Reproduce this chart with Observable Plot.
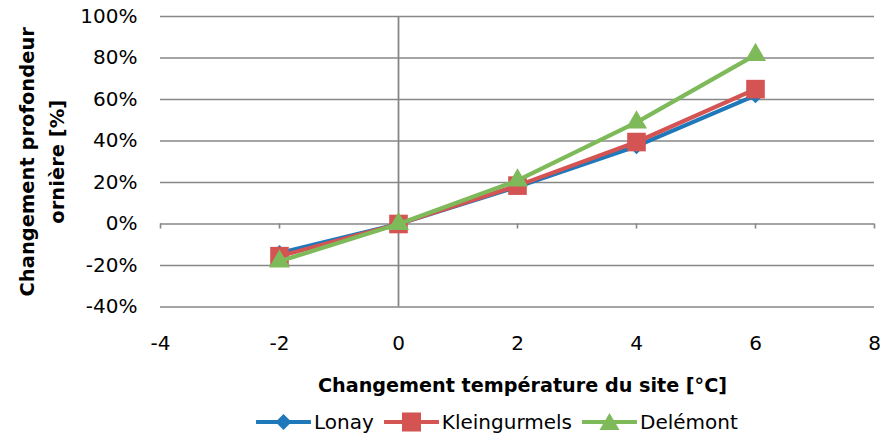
<!DOCTYPE html>
<html><head><meta charset="utf-8">
<script src="https://cdn.jsdelivr.net/npm/d3@7"></script>
<script src="https://cdn.jsdelivr.net/npm/@observablehq/plot@0.6"></script>
<style>
body{margin:0;background:#fff;font-family:"DejaVu Sans",sans-serif;}
#chart svg{display:block;}
#legend{display:flex;justify-content:flex-start;align-items:center;height:34px;font-size:20px;color:#000;padding-left:256px;}
.item{display:flex;align-items:center;margin-right:10px;}
.item svg{margin-right:3px;display:block;}
</style></head><body><div id="chart"></div><div id="legend"></div>
<script>
const temps = [-2, 0, 2, 4, 6];
const lonay = [-14, 0, 18, 37.5, 62];
const kleingurmels = [-15.5, 0, 18.5, 39.5, 65];
const delemont = [-18, 0, 21, 49, 81.5];
const seriesNames = ["Lonay", "Kleingurmels", "Delémont"];
const seriesColors = ["#1f78b9", "#d45353", "#7eb95a"];
const seriesSymbols = ["diamond2", "square", "triangle"];
const xTicks = [-4, -2, 0, 2, 4, 6, 8];
const yTicks = [-40, -20, 0, 20, 40, 60, 80, 100];
const xTitle = "Changement température du site [°C]";
const yTitle = "Changement profondeur\nornière [%]";

const seriesValues = [lonay, kleingurmels, delemont];
const symbolR = [7.2, 10.5, 7.8];
const gridColor = "#878787";

const seriesMarks = [];
seriesNames.forEach((name, k) => {
  const rows = temps.map((t, i) => ({series: name, x: t, y: seriesValues[k][i]}));
  seriesMarks.push(Plot.line(rows, {x: "x", y: "y", stroke: seriesColors[k], strokeWidth: 4.2}));
  seriesMarks.push(Plot.dot(rows, {x: "x", y: "y", symbol: seriesSymbols[k], r: symbolR[k], fill: seriesColors[k], stroke: "none"}));
});

const chart = Plot.plot({
  width: 880,
  height: 405,
  marginLeft: 160,
  marginRight: 6,
  marginTop: 16,
  marginBottom: 98.5,
  style: {fontSize: "20px", fontFamily: "DejaVu Sans, sans-serif", color: "#000", background: "#fff"},
  x: {domain: [-4, 8], ticks: xTicks, tickFormat: d => String(d)},
  y: {domain: [-40, 100], ticks: yTicks, tickFormat: d => d + "%"},
  marks: [
    Plot.ruleY(yTicks, {y: d => d, stroke: gridColor, strokeWidth: 1.6, strokeOpacity: 1}),
    Plot.ruleX([0], {x: d => d, stroke: gridColor, strokeWidth: 1.8}),
    Plot.ruleX(xTicks, {x: d => d, y1: 0, y2: 0, insetBottom: -5, stroke: gridColor, strokeWidth: 1.6}),
    ...seriesMarks,
    Plot.axisX({ticks: xTicks, tickFormat: d => String(d), tickSize: 0, tickPadding: 29, label: null, fontSize: 20}),
    Plot.axisY({ticks: yTicks, tickFormat: d => d + "%", tickSize: 0, tickPadding: 23, label: null, fontSize: 20}),
    Plot.text([xTitle], {text: d => d, frameAnchor: "bottom", dy: 78.5, dx: 5, fontWeight: "bold", fontSize: 19.2, lineAnchor: "middle"}),
    Plot.text([yTitle], {text: d => d, frameAnchor: "left", dx: -121, rotate: -90, fontWeight: "bold", fontSize: 19.5, lineAnchor: "middle", textAnchor: "middle", lineHeight: 1.55})
  ]
});
document.getElementById("chart").appendChild(chart);

const legend = document.getElementById("legend");
seriesNames.forEach((name, k) => {
  const item = document.createElement("div");
  item.className = "item";
  const c = seriesColors[k];
  let marker;
  if (seriesSymbols[k] === "diamond2") marker = `<polygon points="27.5,2 35.5,10 27.5,18 19.5,10" fill="${c}"/>`;
  else if (seriesSymbols[k] === "square") marker = `<rect x="18" y="0.5" width="19" height="19" fill="${c}"/>`;
  else marker = `<polygon points="27.5,1 37.5,18 17.5,18" fill="${c}"/>`;
  item.innerHTML = `<svg width="55" height="20"><line x1="1" y1="10" x2="54" y2="10" stroke="${c}" stroke-width="4" stroke-linecap="round"/>${marker}</svg><span>${name}</span>`;
  legend.appendChild(item);
});
</script>
</body></html>
